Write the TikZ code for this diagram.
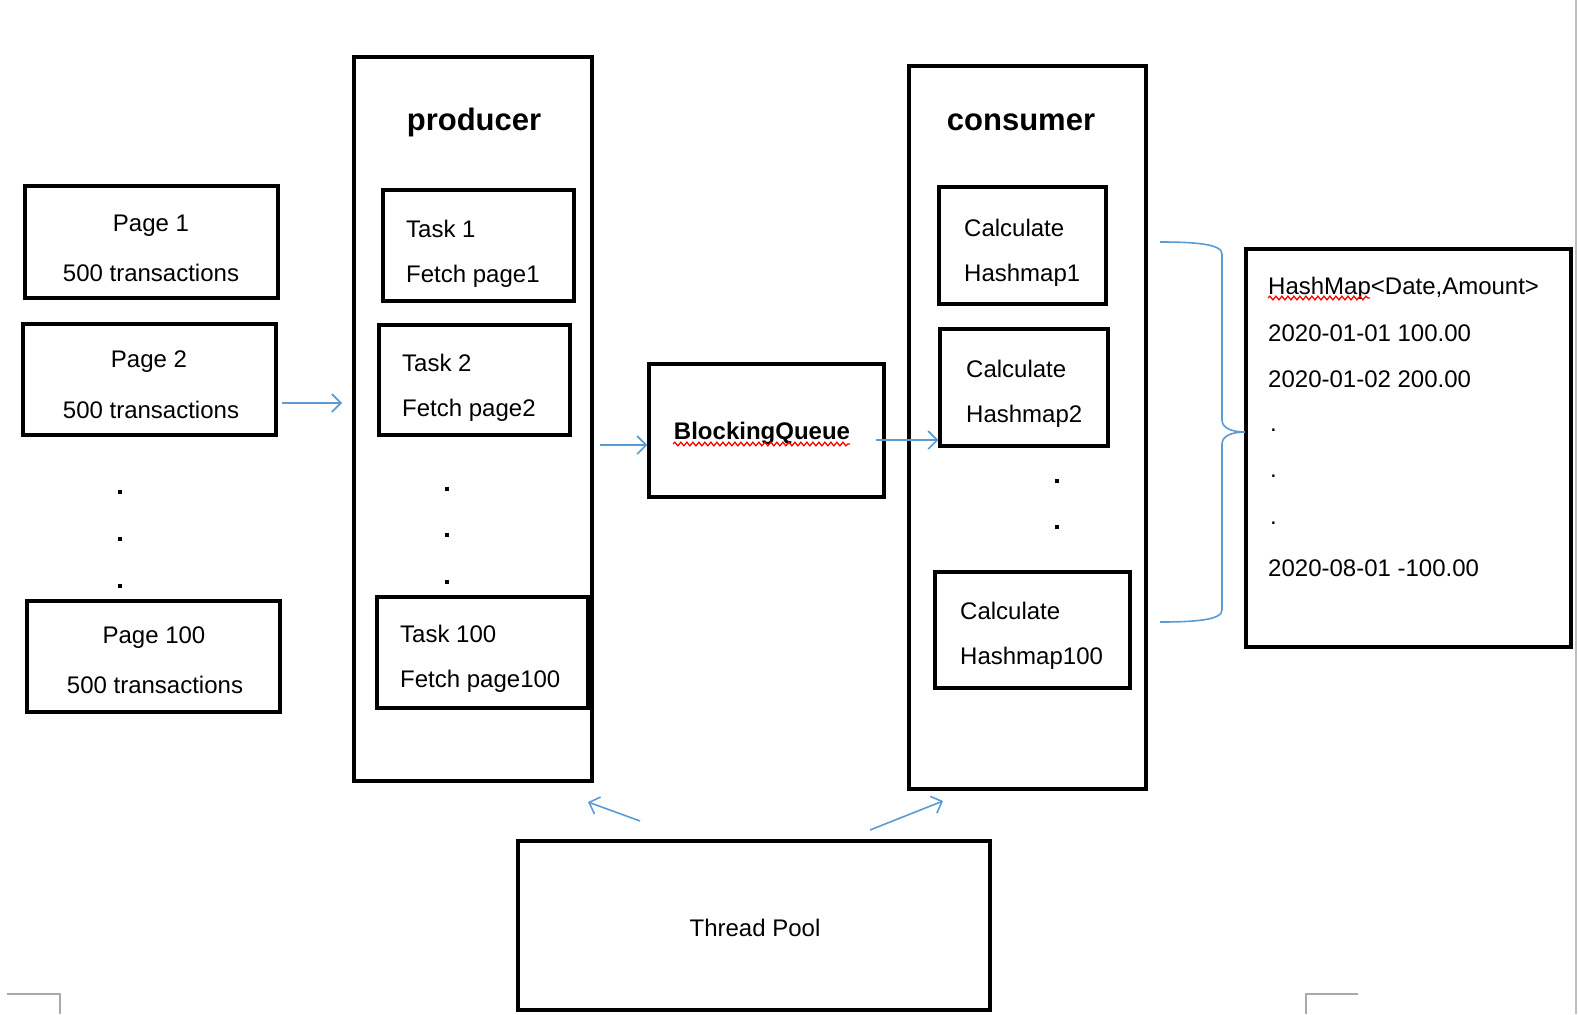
\documentclass[tikz,border=0pt]{standalone}
\usepackage{fontspec}
\setmainfont{Liberation Sans}
\usetikzlibrary{arrows.meta,decorations.pathmorphing,fit}
\definecolor{flowblue}{RGB}{91,155,213}
\definecolor{pagegray}{RGB}{170,170,170}
\definecolor{edgegray}{RGB}{190,190,200}
\begin{document}
\begin{tikzpicture}[x=1pt,y=-1pt,
 box/.style={draw=black,line width=3.5pt,inner sep=0pt},
 lbl/.style={font=\fontsize{24}{24}\selectfont,inner sep=0pt,anchor=west},
 clbl/.style={font=\fontsize{24}{24}\selectfont,inner sep=0pt},
 ttl/.style={font=\fontsize{31}{31}\bfseries\selectfont,inner sep=0pt},
 flow/.style={draw=flowblue,line width=1.6pt,-{Straight Barb[length=9pt,width=18pt]}},
 dotmark/.style={rectangle,fill=black,inner sep=0pt,minimum size=4.5pt},
 spell/.style={draw=red,line width=1.3pt,decorate,decoration={snake,amplitude=1.8pt,segment length=6pt}},
 pagemark/.style={draw=pagegray,line width=2pt}]
\useasboundingbox (0,0) rectangle (1578,1014);

% page corner marks and right edge
\draw[pagemark] (7,994) -- (60,994) -- (60,1014);
\draw[pagemark] (1306,1014) -- (1306,994) -- (1358,994);
\draw[draw=edgegray,line width=2pt] (1576,0) -- (1576,1014);

% pages
\node[box,fit={(25,186)(278,298)}] (pg1) {};
\node[clbl] (pg1a) at (151,226) {Page 1};
\node[clbl] (pg1b) at (151,273) {500 transactions};
\node[box,fit={(23,324)(276,435)}] (pg2) {};
\node[clbl] (pg2a) at (149,362) {Page 2};
\node[clbl] (pg2b) at (151,410) {500 transactions};
\node[box,fit={(27,601)(280,712)}] (pg100) {};
\node[clbl] (pg100a) at (154,638) {Page 100};
\node[clbl] (pg100b) at (155,685) {500 transactions};
\node[dotmark] (pd1) at (120,492) {};
\node[dotmark] (pd2) at (120,539) {};
\node[dotmark] (pd3) at (120,586) {};

% producer
\node[box,fit={(354,57)(592,781)}] (prod) {};
\node[ttl] (prodt) at (474,122) {producer};
\node[box,fit={(383,190)(574,301)}] (t1) {};
\node[lbl] (t1a) at (406,229) {Task 1};
\node[lbl] (t1b) at (406,276) {Fetch page1};
\node[box,fit={(379,325)(570,435)}] (t2) {};
\node[lbl] (t2a) at (402,363) {Task 2};
\node[lbl] (t2b) at (402,410) {Fetch page2};
\node[box,fit={(377,597)(588,708)}] (t100) {};
\node[lbl] (t100a) at (400,634) {Task 100};
\node[lbl] (t100b) at (400,681) {Fetch page100};
\node[dotmark] (td1) at (447,489) {};
\node[dotmark] (td2) at (447,535) {};
\node[dotmark] (td3) at (447,582) {};

% blocking queue
\node[box,fit={(649,364)(884,497)}] (bq) {};
\node[font=\fontsize{24}{24}\bfseries\selectfont,inner sep=0pt] (bqt) at (762,433) {BlockingQueue};
\coordinate (bqs1) at (673,444);
\coordinate (bqs2) at (850,444);
\draw[spell] (bqs1) -- (bqs2);

% consumer
\node[box,fit={(909,66)(1146,789)}] (cons) {};
\node[ttl] (const) at (1021,122) {consumer};
\node[box,fit={(939,187)(1106,304)}] (c1) {};
\node[lbl] (c1a) at (964,228) {Calculate};
\node[lbl] (c1b) at (964,275) {Hashmap1};
\node[box,fit={(940,329)(1108,446)}] (c2) {};
\node[lbl] (c2a) at (966,369) {Calculate};
\node[lbl] (c2b) at (966,416) {Hashmap2};
\node[box,fit={(935,572)(1130,688)}] (c100) {};
\node[lbl] (c100a) at (960,611) {Calculate};
\node[lbl] (c100b) at (960,658) {Hashmap100};
\node[dotmark] (cd1) at (1057,481) {};
\node[dotmark] (cd2) at (1057,527) {};

% result hashmap
\node[box,fit={(1246,249)(1571,647)}] (res) {};
\node[lbl] (r1) at (1268,288) {HashMap<Date,Amount>};
\node[lbl] (r2) at (1268,333) {2020-01-01 100.00};
\node[lbl] (r3) at (1268,379) {2020-01-02 200.00};
\node[lbl] (r4) at (1270,430) {.};
\node[lbl] (r5) at (1270,476) {.};
\node[lbl] (r6) at (1270,523) {.};
\node[lbl] (r7) at (1268,568) {2020-08-01 -100.00};
\coordinate (rs1) at (1268,298);
\coordinate (rs2) at (1370,298);
\draw[spell] (rs1) -- (rs2);

% thread pool
\node[box,fit={(518,841)(990,1010)}] (tp) {};
\node[clbl] (tpt) at (755,928) {Thread Pool};

% connectors
\coordinate (a1s) at (282,403);
\coordinate (a1e) at (342,403);
\draw[flow] (a1s) -- (a1e);
\coordinate (a2s) at (600,445);
\draw[flow] (a2s) -- (bq.west |- a2s);
\coordinate (a3s) at (876,440);
\draw[flow] (a3s) -- (c2.west |- a3s);
\coordinate (tpl) at (640,821);
\coordinate (tplh) at (588,802);
\draw[flow] (tpl) -- (tplh);
\coordinate (tpr) at (870,830);
\coordinate (tprh) at (943,801);
\draw[flow] (tpr) -- (tprh);

% brace
\coordinate (br1) at (1160,242);
\coordinate (brtip) at (1245,432);
\coordinate (br2) at (1160,622);
\draw[draw=flowblue,line width=1.6pt] (br1) .. controls (1195,242) and (1222,244) .. (1222,254)
  -- (1222,420) .. controls (1222,429) and (1234,432) .. (brtip)
  .. controls (1234,432) and (1222,435) .. (1222,444)
  -- (1222,610) .. controls (1222,620) and (1195,622) .. (br2);
\end{tikzpicture}
\end{document}
